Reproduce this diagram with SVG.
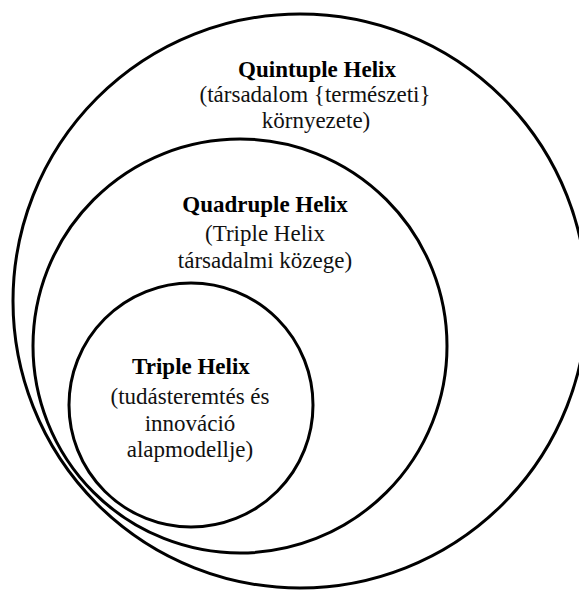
<svg xmlns="http://www.w3.org/2000/svg" width="579" height="590" viewBox="0 0 579 590">
<style>
.ring{fill:none;stroke:#000;stroke-width:3}
text{font-family:"Times New Roman","Liberation Serif","DejaVu Serif",serif;font-size:23px;font-weight:normal;font-style:normal;fill:#111;text-anchor:middle}
text.t{font-weight:bold;fill:#000}
</style>
<rect width="579" height="590" fill="#fff"/>
<g id="quintuple">
<circle class="ring" cx="300" cy="301" r="287"/>
<text class="t" x="317" y="77">Quintuple Helix</text>
<text x="315" y="102">(társadalom {természeti}</text>
<text x="316" y="128">környezete)</text>
</g>
<g id="quadruple">
<circle class="ring" cx="240" cy="346" r="207"/>
<text class="t" x="265" y="212">Quadruple Helix</text>
<text x="265" y="241">(Triple Helix</text>
<text x="265" y="268">társadalmi közege)</text>
</g>
<g id="triple">
<circle class="ring" cx="191" cy="405" r="122"/>
<text class="t" x="191" y="374">Triple Helix</text>
<text x="190" y="404">(tudásteremtés és</text>
<text x="190" y="431">innováció</text>
<text x="190" y="457">alapmodellje)</text>
</g>
<g id="connectors"/>
</svg>
